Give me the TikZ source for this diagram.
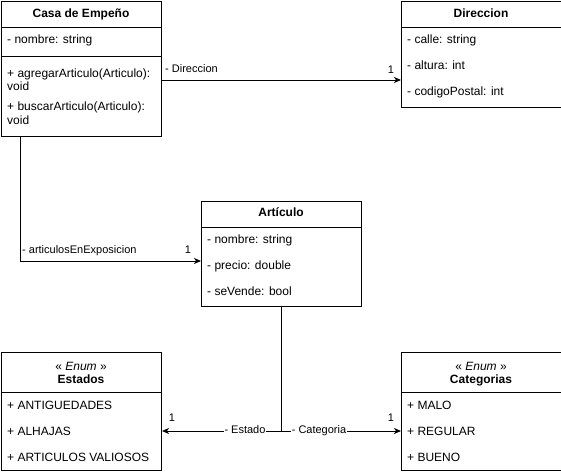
\documentclass[tikz,border=0pt]{standalone}
\usepackage{fontspec}
\setmainfont{Liberation Sans}
\usetikzlibrary{arrows.meta}
\begin{document}
\begin{tikzpicture}[x=1pt,y=-1pt,
  box/.style={draw, line width=1pt, anchor=north west, minimum width=160pt, inner sep=0pt},
  sep/.style={line width=1pt},
  txt/.style={anchor=west, inner sep=0pt, text height=9pt, text depth=3pt, font=\fontsize{12pt}{14pt}\selectfont},
  hdr/.style={inner sep=0pt, text height=9pt, text depth=3pt, font=\fontsize{12pt}{14pt}\selectfont\bfseries},
  ster/.style={inner sep=0pt, text height=9pt, text depth=3pt, font=\fontsize{12pt}{14pt}\selectfont},
  elab/.style={inner sep=1pt, text height=8pt, text depth=2.5pt, font=\fontsize{11pt}{13pt}\selectfont},
  conn/.style={line width=1pt},
  arr/.style={line width=1pt, -{Stealth[length=7pt,width=6pt,inset=2pt]}}
]
\useasboundingbox (0,0) rectangle (561,474);

% Casa de Empeno
\node[box, minimum height=135pt] (casa) at (1,1) {};
\draw[sep] (1,27) -- (161,27);
\draw[sep] (1,56) -- (161,56);
\node[hdr] (casaH) at (81,14) {Casa de Empeño};
\node[txt] (casa1) at (7,40) {- nombre: string};
\node[txt] (casa2) at (7,74) {+ agregarArticulo(Articulo):};
\node[txt] (casa3) at (7,87) {void};
\node[txt] (casa4) at (7,107) {+ buscarArticulo(Articulo):};
\node[txt] (casa5) at (7,121) {void};

% Direccion
\node[box, minimum height=106pt] (dir) at (401,1) {};
\draw[sep] (401,27) -- (561,27);
\node[hdr] (dirH) at (481,14) {Direccion};
\node[txt] (dir1) at (407,40) {- calle: string};
\node[txt] (dir2) at (407,66) {- altura: int};
\node[txt] (dir3) at (407,92) {- codigoPostal: int};

% Articulo
\node[box, minimum height=105pt] (art) at (201,201) {};
\draw[sep] (201,227) -- (361,227);
\node[hdr] (artH) at (281,213) {Artículo};
\node[txt] (art1) at (207,240) {- nombre: string};
\node[txt] (art2) at (207,266) {- precio: double};
\node[txt] (art3) at (207,292) {- seVende: bool};

% Estados
\node[box, minimum height=118pt] (est) at (1,352) {};
\draw[sep] (1,392) -- (161,392);
\node[ster] (estS) at (81,367) {« \textit{Enum} »};
\node[hdr] (estH) at (81,380) {Estados};
\node[txt] (est1) at (7,406) {+ ANTIGUEDADES};
\node[txt] (est2) at (7,432) {+ ALHAJAS};
\node[txt] (est3) at (7,458) {+ ARTICULOS VALIOSOS};

% Categorias
\node[box, minimum height=118pt] (cat) at (401,352) {};
\draw[sep] (401,392) -- (561,392);
\node[ster] (catS) at (481,367) {« \textit{Enum} »};
\node[hdr] (catH) at (481,380) {Categorias};
\node[txt] (cat1) at (407,406) {+ MALO};
\node[txt] (cat2) at (407,432) {+ REGULAR};
\node[txt] (cat3) at (407,458) {+ BUENO};

% Connectors
\draw[arr] (casa.east |- 0,80) -- (dir.west |- 0,80);
\node[elab, anchor=west] (lDir) at (164,70) {- Direccion};
\node[elab] (lDir1) at (391,71) {1};

\coordinate (cBot) at ([xshift=19pt]casa.south west);
\draw[arr] (cBot) |- (art.west |- 0,261);
\node[elab, anchor=west] (lArt) at (21,251) {- articulosEnExposicion};
\node[elab] (lArt1) at (188,251) {1};

\coordinate (j) at (art.south |- 0,431);
\draw[conn] (art.south) -- (j);
\draw[arr] (j) -- (est.east |- j);
\draw[arr] (j) -- (cat.west |- j);
\node[elab, fill=white] (lEst) at (245,431) {- Estado};
\node[elab, fill=white] (lCat) at (319,431) {- Categoria};
\node[elab] (lEst1) at (172,419) {1};
\node[elab] (lCat1) at (391,419) {1};
\end{tikzpicture}
\end{document}
